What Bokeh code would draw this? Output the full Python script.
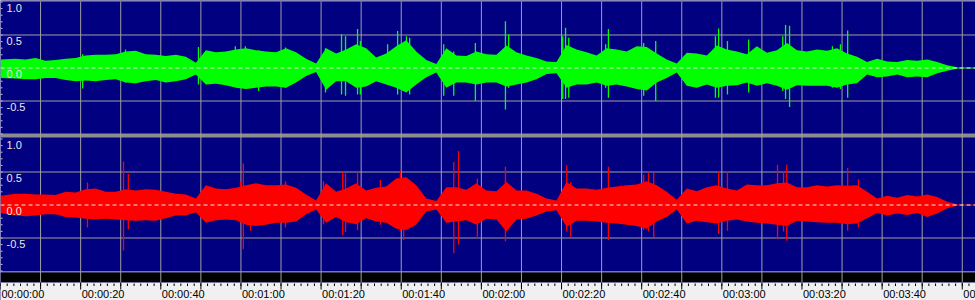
from bokeh.plotting import figure
from bokeh.models import Range1d, ColumnDataSource, Span
from bokeh.embed import file_html
from bokeh.resources import INLINE
from bokeh.core.properties import value

# ---------------- data ----------------
BIN_S = 2.5          # seconds per envelope bin
T_END = 243.3        # visible time span (s)

L_TOP = [0.13,0.14,0.13,0.15,0.11,0.12,0.14,0.15,0.19,0.20,
         0.20,0.21,0.25,0.26,0.21,0.20,0.18,0.20,0.17,0.08,
         0.27,0.24,0.25,0.28,0.30,0.27,0.25,0.24,0.30,0.24,
         0.14,0.07,0.30,0.22,0.28,0.36,0.30,0.16,0.22,0.33,
         0.42,0.25,0.12,0.06,0.30,0.19,0.18,0.25,0.21,0.20,
         0.34,0.24,0.19,0.15,0.10,0.09,0.35,0.28,0.24,0.19,
         0.30,0.28,0.25,0.33,0.32,0.22,0.13,0.07,0.23,0.22,
         0.19,0.34,0.28,0.25,0.21,0.33,0.23,0.27,0.38,0.27,
         0.25,0.28,0.26,0.30,0.22,0.17,0.09,0.14,0.10,0.09,
         0.12,0.11,0.13,0.09,0.04,0.01]
L_BOT = [-0.15,-0.16,-0.17,-0.17,-0.15,-0.15,-0.18,-0.20,-0.19,-0.20,
         -0.18,-0.17,-0.22,-0.23,-0.20,-0.18,-0.22,-0.20,-0.17,-0.10,
         -0.25,-0.24,-0.26,-0.30,-0.32,-0.30,-0.28,-0.28,-0.30,-0.22,
         -0.12,-0.06,-0.33,-0.20,-0.20,-0.30,-0.28,-0.20,-0.25,-0.30,
         -0.37,-0.25,-0.14,-0.07,-0.30,-0.22,-0.22,-0.25,-0.22,-0.22,
         -0.28,-0.25,-0.22,-0.17,-0.09,-0.08,-0.30,-0.25,-0.25,-0.22,
         -0.27,-0.25,-0.28,-0.32,-0.34,-0.22,-0.15,-0.07,-0.27,-0.30,
         -0.25,-0.30,-0.27,-0.26,-0.22,-0.27,-0.23,-0.27,-0.33,-0.26,
         -0.27,-0.27,-0.27,-0.30,-0.25,-0.23,-0.10,-0.14,-0.13,-0.10,
         -0.14,-0.13,-0.14,-0.08,-0.04,-0.01]
R_TOP = [0.14,0.17,0.17,0.16,0.16,0.15,0.20,0.19,0.24,0.25,
         0.20,0.20,0.24,0.22,0.24,0.23,0.20,0.17,0.16,0.10,
         0.30,0.25,0.24,0.26,0.30,0.33,0.30,0.30,0.31,0.26,
         0.16,0.07,0.33,0.20,0.25,0.33,0.22,0.26,0.28,0.40,
         0.42,0.30,0.10,0.06,0.27,0.27,0.23,0.33,0.22,0.21,
         0.35,0.22,0.22,0.17,0.10,0.07,0.35,0.25,0.25,0.23,
         0.26,0.28,0.30,0.31,0.36,0.30,0.20,0.08,0.25,0.21,
         0.27,0.30,0.25,0.22,0.31,0.30,0.30,0.33,0.34,0.27,
         0.27,0.30,0.28,0.30,0.29,0.30,0.20,0.10,0.14,0.11,
         0.15,0.13,0.16,0.12,0.05,0.01]
R_BOT = [-0.12,-0.16,-0.17,-0.16,-0.14,-0.14,-0.18,-0.19,-0.21,-0.22,
         -0.21,-0.22,-0.23,-0.24,-0.23,-0.24,-0.20,-0.16,-0.16,-0.11,
         -0.27,-0.23,-0.22,-0.23,-0.30,-0.32,-0.30,-0.27,-0.27,-0.25,
         -0.14,-0.07,-0.27,-0.18,-0.26,-0.29,-0.20,-0.25,-0.27,-0.36,
         -0.38,-0.30,-0.10,-0.07,-0.27,-0.25,-0.23,-0.30,-0.21,-0.22,
         -0.40,-0.22,-0.21,-0.16,-0.10,-0.08,-0.33,-0.24,-0.24,-0.25,
         -0.27,-0.28,-0.30,-0.32,-0.36,-0.25,-0.18,-0.07,-0.28,-0.24,
         -0.26,-0.28,-0.24,-0.22,-0.25,-0.27,-0.28,-0.30,-0.32,-0.24,
         -0.25,-0.26,-0.27,-0.27,-0.29,-0.28,-0.20,-0.12,-0.16,-0.13,
         -0.15,-0.12,-0.18,-0.13,-0.05,-0.01]

L_SPIKE_T  = [20.5,31.2,49.4,58.6,61.1,64.4,71.1,81.1,85.1,86.1,89.1,89.8,96.6,99.1,
              101.3,102.1,110.6,113.1,118.5,126.0,126.8,140.3,141.0,141.8,151.0,151.7,
              160.5,163.5,178.4,179.2,181.4,186.7,195.2,195.9,196.9,207.6,209.6,211.4]
L_SPIKE_HI = [0.21,0.28,0.32,0.33,0.33,0.27,0.31,0.30,0.51,0.48,0.59,0.41,0.36,0.56,
              0.48,0.46,0.36,0.25,0.38,0.71,0.51,0.48,0.61,0.46,0.36,0.59,
              0.38,0.41,0.48,0.60,0.41,0.43,0.48,0.65,0.64,0.33,0.36,0.57]
L_SPIKE_LO = [-0.31,-0.22,-0.25,-0.28,-0.30,-0.35,-0.30,-0.37,-0.40,-0.42,-0.40,-0.40,-0.25,-0.40,
              -0.35,-0.40,-0.42,-0.42,-0.50,-0.63,-0.30,-0.47,-0.47,-0.45,-0.30,-0.45,
              -0.42,-0.50,-0.45,-0.45,-0.40,-0.37,-0.35,-0.47,-0.59,-0.30,-0.32,-0.45]

R_SPIKE_T  = [21.7,30.7,31.9,59.9,60.6,62.4,71.1,80.6,85.4,86.1,89.1,94.8,99.8,100.6,
              113.1,114.3,119.0,126.0,141.3,142.3,151.7,160.5,161.7,163.0,179.2,181.4,
              193.9,195.4,196.2,209.9,211.4,214.1]
R_SPIKE_HI = [0.34,0.66,0.47,0.36,0.63,0.30,0.36,0.36,0.50,0.48,0.52,0.38,0.52,0.40,
              0.65,0.82,0.40,0.58,0.60,0.35,0.58,0.46,0.49,0.49,0.51,0.51,
              0.61,0.51,0.61,0.36,0.56,0.39]
R_SPIKE_LO = [-0.34,-0.69,-0.37,-0.25,-0.67,-0.39,-0.34,-0.29,-0.46,-0.41,-0.38,-0.30,-0.40,-0.53,
              -0.73,-0.60,-0.50,-0.55,-0.40,-0.48,-0.53,-0.38,-0.40,-0.49,-0.44,-0.39,
              -0.52,-0.40,-0.54,-0.30,-0.39,-0.34]

TIME_TICKS  = [0, 20, 40, 60, 80, 100, 120, 140, 160, 180, 200, 220, 240]
TIME_LABELS = ["00:00:00", "00:00:20", "00:00:40", "00:01:00", "00:01:20", "00:01:40",
               "00:02:00", "00:02:20", "00:02:40", "00:03:00", "00:03:20", "00:03:40",
               "00:04:00"]
Y_TICKS  = [1.0, 0.5, 0.0, -0.5]
Y_LABELS = ["1.0", "0.5", "0.0", "-0.5"]

# ---------------- styling / layout ----------------
NAVY = "#000080"
GRID = "#a0a0a0"
GREEN = "#00ff00"
RED = "#ff0000"
FONT = value("Liberation Sans")

# envelope sample positions: bin centres, first one pinned to the left edge
t_env = [0.0] + [BIN_S * (i + 0.5) for i in range(1, len(L_TOP))]

p = figure(width=975, height=300, x_range=Range1d(0, T_END), y_range=Range1d(300, 0),
           x_axis_location=None, y_axis_location=None, output_backend="svg",
           toolbar_location=None, min_border=0, background_fill_color=NAVY,
           border_fill_color=NAVY, outline_line_color=None)
p.grid.visible = False
# channel ranges: 66 px per unit, zero lines at pixel rows 67.5 and 204.5
p.extra_y_ranges = {"L": Range1d(-232.5 / 66, 67.5 / 66),
                    "R": Range1d(-95.5 / 66, 204.5 / 66)}

# frame pieces (pixel rows in the default range)
p.quad(left=0, right=T_END, top=0, bottom=1, fill_color="#a0a0a0", line_color=None)
p.quad(left=0, right=T_END, top=133, bottom=137, fill_color="#8c8c8c", line_color=None)
p.quad(left=0, right=T_END, top=271, bottom=272, fill_color="#e8e8e8", line_color=None)
p.quad(left=0, right=T_END, top=272, bottom=282, fill_color="#000000", line_color=None)
p.quad(left=0, right=T_END, top=282, bottom=300, fill_color="#f0f0f0", line_color=None)

# vertical grid every 10 s
grid_t = [10 * k for k in range(1, 25)]
p.segment(x0=grid_t, x1=grid_t, y0=[1] * len(grid_t), y1=[282] * len(grid_t),
          line_color=GRID, line_width=1)
for rng in ("L", "R"):
    for v in (0.5, -0.5):
        p.add_layout(Span(location=v, dimension="width", y_range_name=rng,
                          line_color=GRID, line_width=1, level="underlay"))

# left small ticks every 0.1
for rng in ("L", "R"):
    vals = [k / 10 for k in range(-10, 11)]
    p.segment(x0=[0] * len(vals), x1=[0.5] * len(vals), y0=vals, y1=vals,
              y_range_name=rng, line_color="#c8c8c8", line_width=1)

# waveforms: peak envelope + single peaks
for rng, top, bot, st, sh, sl, col in (
        ("L", L_TOP, L_BOT, L_SPIKE_T, L_SPIKE_HI, L_SPIKE_LO, GREEN),
        ("R", R_TOP, R_BOT, R_SPIKE_T, R_SPIKE_HI, R_SPIKE_LO, RED)):
    p.add_layout(Span(location=0, dimension="width", y_range_name=rng,
                      line_color=col, line_width=1, level="underlay"))
    src = ColumnDataSource(dict(t=t_env, top=top, bot=bot))
    p.varea(x="t", y1="bot", y2="top", source=src, y_range_name=rng, fill_color=col)
    p.segment(x0=st, x1=st, y0=sl, y1=sh, y_range_name=rng, line_color=col, line_width=1.3)
    p.add_layout(Span(location=0, dimension="width", y_range_name=rng,
                      line_color="#e8e8e8", line_width=1, line_dash="4 3"))
    p.text(x=[1.5] * len(Y_TICKS), y=Y_TICKS, text=Y_LABELS, y_range_name=rng,
           text_font=FONT, text_font_size="11px", text_color="#e8e8e8",
           text_baseline="middle", text_align="left", y_offset=6)

# time ruler ticks
minor_t = [k * 10 / 6 for k in range(0, 147)]
p.segment(x0=minor_t, x1=minor_t, y0=[283] * len(minor_t), y1=[285.5] * len(minor_t),
          line_color="#000000", line_width=1)
major_t = [10 * k for k in range(0, 25)]
p.segment(x0=major_t, x1=major_t, y0=[282] * len(major_t), y1=[289] * len(major_t),
          line_color="#000000", line_width=1)
p.text(x=TIME_TICKS, y=[293] * len(TIME_TICKS), text=TIME_LABELS, x_offset=1,
       text_font=FONT, text_font_size="11px", text_color="#000000",
       text_baseline="middle", text_align="left")

open("out.html", "w").write(file_html(p, INLINE))
